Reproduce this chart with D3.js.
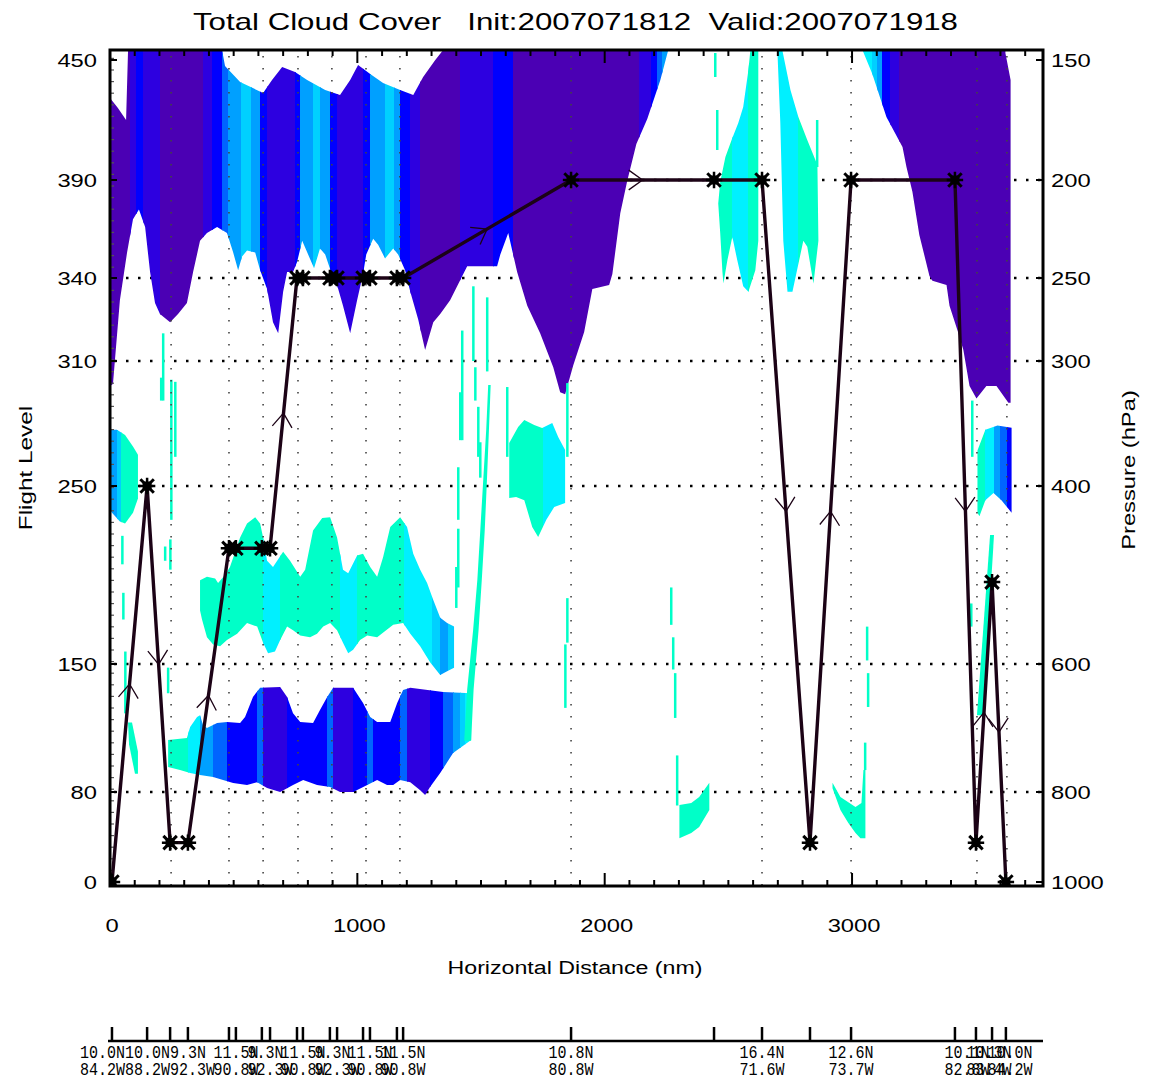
<!DOCTYPE html>
<html>
<head>
<meta charset="utf-8">
<script src="https://cdn.jsdelivr.net/npm/d3@7"></script>
<style>
body { margin: 0; background: #fff; }
text { font-family: "Liberation Sans", Arial, sans-serif; fill: #000; }
.mono { font-family: "Liberation Mono", "DejaVu Sans Mono", monospace; }
</style>
</head>
<body>
<div id="chart"></div>
<script>
// axis ticks
var distTicks = [0, 1000, 2000, 3000];
var flTicks = [0, 80, 150, 250, 310, 340, 390, 450];
var presTicks = [1000, 800, 600, 400, 300, 250, 200, 150];

// flight profile (nm, flight level)
var profDist = [8, 150, 243, 315, 481, 509, 614, 647, 756, 780, 889, 918, 1023, 1051, 1160, 1185, 1864, 2442, 2636, 2830, 2996, 3416, 3501, 3566, 3622];
var profFL   = [0, 250, 35, 35, 215, 215, 215, 215, 340, 340, 340, 340, 340, 340, 340, 340, 390, 390, 390, 35, 390, 390, 35, 196, 0];
// direction arrow on leg i -> i+1
var legArrow = [1, 1, 0, 1, 0, 0, 0, 1, 0, 0, 0, 0, 0, 0, 0, 1, 1, 0, 1, 1, 0, 1, 1, 1];

// waypoints
var gridDist = [247, 481, 619, 760, 897, 1035, 1172, 1864, 2636, 2996, 3505, 3626];
var labelDist = [-30, 152, 334, 509, 647, 780, 918, 1051, 1185, 1864, 2636, 2996, 3465, 3554, 3639];
var labelLat = ["10.0N", "10.0N", "9.3N", "11.5N", "9.3N", "11.5N", "9.3N", "11.5N", "11.5N", "10.8N", "16.4N", "12.6N", "10.1N", "10.3N", "10.0N"];
var labelLon = ["84.2W", "88.2W", "92.3W", "90.8W", "92.3W", "90.8W", "92.3W", "90.8W", "90.8W", "80.8W", "71.6W", "73.7W", "82.8W", "83.4W", "84.2W"];

// cloud cover colour levels, low -> high
var cloudColors = ["#00ffc8", "#00f0ff", "#00d0ff", "#00a0ff", "#0064ff", "#0000ff", "#2d00e0", "#4b00b4"];

// upper deck, west part: outline [nm, FL]
var deckA = [[0, 431], [32, 426], [65, 420], [73, 455], [453, 455], [465, 447], [526, 439], [619, 433.5], [655, 440], [696, 446.5], [748, 444], [797, 440], [870, 435], [930, 432.5], [971, 440], [1003, 447.5], [1052, 443], [1104, 438.5], [1173, 435], [1226, 432.5], [1266, 441.5], [1315, 450], [1347, 455], [2257, 455],
  [2225, 440], [2172, 420.5], [2128, 408], [2091, 389.5], [2063, 373], [2031, 342], [2018, 337.5], [1950, 336], [1917, 320.5], [1873, 308], [1840, 294], [1820, 295], [1792, 307], [1739, 320], [1687, 330], [1646, 343], [1610, 363], [1578, 352], [1565, 346], [1444, 346], [1375, 332], [1335, 327], [1307, 324], [1274, 314], [1246, 325], [1214, 335], [1193, 344], [1165, 352], [1145, 355], [1112, 350], [1084, 357], [1064, 360], [1036, 352], [1023, 342], [999, 332], [971, 320], [942, 330], [918, 337.5], [902, 340], [870, 352], [849, 355], [825, 345], [801, 352], [777, 359], [756, 348], [740, 343], [716, 343], [700, 335], [680, 320], [659, 324], [635, 336], [607, 344], [587, 353], [554, 354], [534, 351], [518, 344], [498, 353], [473, 363], [433, 366], [392, 363], [364, 359], [336, 343], [311, 331], [275, 327], [243, 324], [202, 327], [182, 331], [162, 343], [142, 366], [117, 375], [93, 370], [69, 353], [40, 332], [12, 299], [0, 298]];
var deckABands = [[0, 81, 7], [81, 105, 6], [105, 135, 5], [135, 202, 6], [202, 376, 7], [376, 413, 6], [413, 453, 5], [453, 477, 4], [477, 530, 3], [530, 570, 2], [570, 607, 3], [607, 635, 5], [635, 748, 6], [748, 769, 5], [769, 820, 3], [820, 850, 2], [850, 890, 3], [890, 918, 5], [918, 1023, 6], [1023, 1052, 5], [1052, 1110, 3], [1110, 1150, 2], [1150, 1173, 3], [1173, 1214, 5], [1214, 1254, 6], [1254, 1416, 7], [1416, 1549, 6], [1549, 1630, 5], [1630, 2140, 7], [2140, 2188, 6], [2188, 2213, 5], [2213, 2233, 4], [2233, 2270, 3]];

// upper deck, east part
var deckB = [[3042, 455], [3620, 455], [3620, 453.5], [3641, 440], [3641, 290], [3632, 290], [3584, 298], [3543, 298], [3503, 292], [3475, 298], [3450, 314], [3430, 320], [3394, 330], [3382, 337.5], [3325, 339], [3313, 341], [3272, 362], [3244, 384], [3220, 396.5], [3204, 406.5], [3139, 421.5], [3082, 443]];
var deckBBands = [[3040, 3082, 1], [3082, 3102, 2], [3102, 3123, 3], [3123, 3155, 5], [3155, 3191, 6], [3191, 3650, 7]];

// mid level and low level cloud
var blobA = [[0, 277], [28, 277], [61, 274.5], [93, 269], [113, 265], [113, 243], [93, 235], [61, 229], [40, 230], [8, 235], [0, 236.5]];
var blobABands = [[0, 28, 3], [28, 45, 2], [45, 115, 0]];

var blobB = [[364, 197], [392, 199], [425, 198], [437, 195.5], [465, 200], [485, 204.5], [526, 221], [554, 229], [587, 232.5], [607, 229], [619, 221], [635, 208], [659, 204.5], [700, 213], [728, 208], [769, 199], [789, 203], [821, 225], [858, 232], [890, 232.5], [918, 221], [942, 203], [963, 201], [999, 211], [1023, 212], [1052, 204.5], [1080, 199], [1104, 210], [1133, 227], [1173, 232.5], [1201, 227], [1226, 212], [1254, 203], [1282, 195.5], [1307, 186], [1335, 176], [1363, 173], [1391, 171],
  [1391, 148], [1363, 146], [1335, 144], [1294, 151], [1254, 160], [1214, 167], [1185, 173], [1145, 172], [1080, 165], [1040, 166], [1011, 163.5], [983, 158], [963, 156], [942, 162], [918, 169], [890, 173], [862, 171], [837, 167], [809, 165], [769, 166], [740, 169], [716, 171], [688, 163.5], [667, 157], [639, 156], [619, 162], [595, 171], [554, 173], [514, 167], [473, 163.5], [445, 160], [417, 161], [392, 165], [372, 175], [364, 180]];
var blobBBands = [[360, 619, 0], [619, 688, 1], [688, 930, 0], [930, 1000, 1], [1000, 1190, 0], [1190, 1300, 1], [1300, 1335, 2], [1335, 1365, 3], [1365, 1395, 2]];

var blobC = [[235, 108.4], [311, 109.5], [324, 115.5], [352, 121], [364, 122], [376, 116.6], [392, 115], [433, 117.7], [473, 118.3], [526, 117.7], [546, 121], [578, 132], [607, 137], [688, 137.4], [716, 132], [740, 123], [769, 118.3], [821, 117.7], [849, 124.8], [878, 132], [902, 137], [983, 137], [1023, 128.7], [1052, 121], [1080, 118.3], [1133, 118.3], [1161, 128.7], [1185, 135.8], [1214, 137], [1347, 134.7], [1460, 134], [1460, 108.4], [1387, 101.3], [1335, 90.4], [1294, 82.7], [1274, 77.3], [1254, 81], [1214, 85.4], [1173, 86.5], [1145, 83.8], [1120, 83.8], [1080, 86.5], [1040, 83.8], [983, 80], [930, 80], [890, 82.7], [837, 83.8], [781, 86.5], [740, 83.8], [688, 80], [635, 82.2], [595, 85.4], [554, 83.8], [498, 84.9], [457, 86.5], [417, 88.2], [364, 89.3], [324, 90.4], [283, 92], [235, 93.7]];
var blobCBands = [[230, 315, 0], [315, 364, 1], [364, 417, 3], [417, 473, 4], [473, 595, 5], [595, 619, 4], [619, 716, 6], [716, 878, 5], [878, 902, 4], [902, 983, 6], [983, 1040, 5], [1040, 1064, 4], [1064, 1173, 5], [1173, 1201, 4], [1201, 1294, 6], [1294, 1347, 5], [1347, 1387, 4], [1387, 1416, 3], [1416, 1436, 2], [1436, 1465, 1]];

var rimC = [[1432, 108], [1444, 136], [1468, 169], [1485, 197], [1497, 225], [1509, 253], [1521, 277], [1529, 298.5], [1539, 298.5], [1532, 277], [1524, 253], [1515, 225], [1503, 197], [1490, 169], [1470, 136], [1460, 108]];

var blobE = [[1614, 270.6], [1650, 278.3], [1675, 281.7], [1715, 279.3], [1747, 277.8], [1788, 280.2], [1812, 273.5], [1840, 267.3], [1840, 240.4], [1796, 238.2], [1764, 231], [1731, 221.3], [1707, 227], [1675, 242], [1642, 243.8], [1614, 243.3]];
var blobEBands = [[1610, 1750, 0], [1750, 1845, 1]];

var blobF = [[2302, 68.4], [2350, 70.2], [2382, 75.6], [2423, 85], [2423, 64], [2382, 49], [2350, 43.6], [2302, 39]];
var blobG = [[2921, 85], [2953, 75.6], [2985, 71], [3014, 66.7], [3038, 70.2], [3046, 92], [3054, 92], [3054, 39], [3034, 39], [3014, 43.6], [2985, 52.4], [2953, 64], [2921, 82]];
var blobH = [[3507, 267], [3539, 277], [3588, 279], [3645, 278], [3645, 235], [3604, 242], [3572, 246], [3539, 242], [3515, 233], [3507, 235]];
var blobHBands = [[3500, 3539, 0], [3539, 3572, 1], [3572, 3600, 3], [3600, 3625, 4], [3625, 3650, 5]];

var blobI = [[2589, 455], [2621, 455], [2621, 359], [2609, 344], [2581, 335], [2560, 337], [2536, 349], [2516, 361], [2496, 349], [2480, 338], [2476, 343], [2467, 363], [2459, 378], [2467, 389], [2488, 401.5], [2516, 411], [2540, 418.5], [2560, 426.5], [2581, 445]];
var blobIBands = [[2455, 2516, 0], [2516, 2581, 1], [2581, 2625, 0]];
var blobJ = [[2698, 455], [2718, 455], [2751, 435], [2783, 421.5], [2819, 410], [2860, 397.5], [2864, 359], [2844, 338], [2819, 356], [2803, 359], [2759, 335], [2739, 335], [2722, 359], [2710, 418.5]];
var blobJBands = [[2695, 2780, 1], [2780, 2868, 0]];

var wispA = [[73, 118], [89, 118], [113, 102], [113, 90], [101, 90], [77, 106]];
var wispB = [[3558, 222.5], [3574, 222.5], [3529, 122], [3505, 122]];

// thin streaks [nm, top FL, bottom FL]
var streaks = [[214, 320, 291], [206, 302, 291], [263, 300, 264], [247, 301, 231], [222, 216, 208], [243, 220, 203], [234, 148, 134],
  [49, 222, 206], [53, 190, 175], [61, 157, 123],
  [1423, 321, 272], [1468, 337, 310], [1476, 307, 291], [1488, 288, 264], [1524, 333, 305], [1605, 297.5, 264], [1399, 204.5, 181.5], [1407, 226, 193], [1415, 295, 272], [1407, 259, 231], [1496, 271, 254],
  [1848, 299.4, 264], [1848, 187, 162], [1840, 161, 126],
  [2268, 193, 172], [2276, 165, 147], [2284, 145, 120.5], [2292, 100, 68],
  [2446, 453.5, 441.5], [2454, 425, 405], [2858, 420, 396.5],
  [3060, 171, 152], [3064, 145, 126.5], [3052, 107, 92],
  [3485, 291, 264], [3481, 184, 171]];

// ---------------------------------------------------------------
var width = 1152, height = 1090;
var pL = 110, pR = 1043, pT = 50, pB = 886;

var svg = d3.select('#chart').append('svg')
    .attr('width', width)
    .attr('height', height);
var defs = svg.append('defs');

var x = d3.scaleLinear().domain([0, 3772]).range([pL, pR]);
var y = d3.scaleLinear().domain(flTicks).range([882, 792, 664, 486, 361, 278, 180, 60]);

defs.append('clipPath').attr('id', 'plotclip')
  .append('rect').attr('x', pL).attr('y', pT).attr('width', pR - pL).attr('height', pB - pT);

var plot = svg.append('g').attr('clip-path', 'url(#plotclip)');

// horizontal dotted grid (under the cloud)
plot.selectAll('.hgrid').data(flTicks.slice(1, -1)).join('line')
    .attr('x1', pL + 4).attr('x2', pR)
    .attr('y1', function(d){ return y(d); }).attr('y2', function(d){ return y(d); })
    .attr('stroke', '#000').attr('stroke-width', 2.5)
    .attr('stroke-dasharray', '2.5,9.5');

var line = d3.line().x(function(d){ return x(d[0]); }).y(function(d){ return y(d[1]); });

var clouds = plot.append('g');
var n = 0;
function banded(outline, bands) {
    var id = 'cl' + (n++);
    defs.append('clipPath').attr('id', id).append('path').attr('d', line(outline) + 'Z');
    clouds.append('g').attr('clip-path', 'url(#' + id + ')')
      .selectAll('rect').data(bands).join('rect')
        .attr('x', function(b){ return x(b[0]); })
        .attr('width', function(b){ return x(b[1]) - x(b[0]) + 0.6; })
        .attr('y', pT).attr('height', pB - pT)
        .attr('shape-rendering', 'crispEdges')
        .attr('fill', function(b){ return cloudColors[b[2]]; });
}
function solid(outline, level) {
    clouds.append('path').attr('d', line(outline) + 'Z').attr('fill', cloudColors[level]);
}

banded(deckA, deckABands);
banded(deckB, deckBBands);
banded(blobA, blobABands);
banded(blobB, blobBBands);
banded(blobC, blobCBands);
solid(rimC, 0);
banded(blobE, blobEBands);
solid(blobF, 0);
solid(blobG, 0);
banded(blobH, blobHBands);
banded(blobI, blobIBands);
banded(blobJ, blobJBands);
solid(wispA, 0);
solid(wispB, 0);

clouds.selectAll('.streak').data(streaks).join('rect')
    .attr('x', function(d){ return x(d[0]) - 1; })
    .attr('width', 2.5)
    .attr('y', function(d){ return y(d[1]); })
    .attr('height', function(d){ return y(d[2]) - y(d[1]); })
    .attr('fill', cloudColors[0]);

// vertical dotted grid at waypoints (over the cloud)
plot.selectAll('.vgrid').data(gridDist).join('line')
    .attr('x1', function(d){ return x(d); }).attr('x2', function(d){ return x(d); })
    .attr('y1', pT + 6).attr('y2', pB)
    .attr('stroke', '#444').attr('stroke-width', 1.6)
    .attr('stroke-dasharray', '1.6,10.4');

// left minor ticks
var minor = d3.range(y(0) - 11.6, y(455), -11.6).map(function(p){ return y.invert(p); });
plot.selectAll('.ltick').data(minor).join('line')
    .attr('x1', pL).attr('x2', pL + 4)
    .attr('y1', function(d){ return y(d); }).attr('y2', function(d){ return y(d); })
    .attr('stroke', '#555').attr('stroke-width', 1.2);

// flight track
var prof = profDist.map(function(d, i){ return [d, profFL[i]]; });
plot.append('path').attr('d', line(prof))
    .attr('fill', 'none').attr('stroke', '#1c0316').attr('stroke-width', 3.4)
    .attr('stroke-linejoin', 'round');

var legs = d3.range(prof.length - 1).filter(function(i){ return legArrow[i]; });
plot.selectAll('.arrow').data(legs).join('path')
    .attr('d', function(i){
        var x0 = x(prof[i][0]), y0 = y(prof[i][1]), x1 = x(prof[i + 1][0]), y1 = y(prof[i + 1][1]);
        var mx = (x0 + x1) / 2, my = (y0 + y1) / 2, a = Math.atan2(y1 - y0, x1 - x0);
        var L = 17, s = 0.62;
        return 'M' + (mx - L * Math.cos(a - s)) + ',' + (my - L * Math.sin(a - s)) +
               'L' + mx + ',' + my +
               'L' + (mx - L * Math.cos(a + s)) + ',' + (my - L * Math.sin(a + s));
    })
    .attr('fill', 'none').attr('stroke', '#1c0316').attr('stroke-width', 1.3);

var star = plot.selectAll('.mark').data(prof).join('g')
    .attr('transform', function(d){ return 'translate(' + x(d[0]) + ',' + y(d[1]) + ')'; });
star.append('rect').attr('x', -4.5).attr('y', -4.5).attr('width', 9).attr('height', 9).attr('fill', '#000');
star.append('path').attr('d', d3.symbol(d3.symbolTimes, 120))
    .attr('stroke', '#000').attr('stroke-width', 3).attr('fill', 'none');
star.append('path').attr('d', d3.symbol(d3.symbolPlus, 90))
    .attr('stroke', '#000').attr('stroke-width', 2.5).attr('fill', 'none');

// frame and ticks
var axes = svg.append('g').attr('stroke', '#000');
axes.append('rect').attr('x', pL).attr('y', pT).attr('width', pR - pL).attr('height', pB - pT)
    .attr('fill', 'none').attr('stroke-width', 3);

var xMinor = d3.range(0, 3772, 100);
axes.selectAll('.tb').data(xMinor).join('line')
    .attr('x1', function(d){ return x(d); }).attr('x2', function(d){ return x(d); })
    .attr('y1', pB).attr('y2', function(d){ return pB - (d % 1000 === 0 ? 13 : 6); })
    .attr('stroke-width', 2);
axes.selectAll('.tt').data(xMinor).join('line')
    .attr('x1', function(d){ return x(d); }).attr('x2', function(d){ return x(d); })
    .attr('y1', pT).attr('y2', function(d){ return pT + (d % 1000 === 0 ? 13 : 6); })
    .attr('stroke-width', 2);
axes.selectAll('.tl').data(flTicks).join('line')
    .attr('x1', pL).attr('x2', pL + 7)
    .attr('y1', function(d){ return y(d); }).attr('y2', function(d){ return y(d); })
    .attr('stroke-width', 2);
axes.selectAll('.tr').data(flTicks).join('line')
    .attr('x1', pR).attr('x2', pR - 7)
    .attr('y1', function(d){ return y(d); }).attr('y2', function(d){ return y(d); })
    .attr('stroke-width', 2);

// stretched text helper
function label(tx, ty, str, size, anchor, sx, rot) {
    return svg.append('text')
        .attr('transform', 'translate(' + tx + ',' + ty + ')' + (rot ? ' rotate(' + rot + ')' : '') + ' scale(' + sx + ',1)')
        .attr('text-anchor', anchor)
        .attr('font-size', size)
        .attr('dy', '0.35em')
        .style('white-space', 'pre')
        .text(str);
}

svg.append('text')
    .attr('x', 193).attr('y', 22).attr('dy', '0.35em')
    .attr('font-size', 24)
    .attr('textLength', 765).attr('lengthAdjust', 'spacingAndGlyphs')
    .style('white-space', 'pre')
    .text('Total Cloud Cover   Init:2007071812  Valid:2007071918');

flTicks.forEach(function(d){ label(97, y(d), String(d), 19, 'end', 1.25); });
presTicks.forEach(function(p, i){ label(1051, y(flTicks[i]), String(p), 19, 'start', 1.25); });
distTicks.forEach(function(d){ label(x(d) + 2, 925, String(d), 19, 'middle', 1.25); });

label(575, 967, 'Horizontal Distance (nm)', 19, 'middle', 1.22);
label(25, 468, 'Flight Level', 19, 'middle', 1.28, -90);
label(1128, 470, 'Pressure (hPa)', 19, 'middle', 1.25, -90);

// waypoint axis
var wp = svg.append('g');
wp.append('line').attr('x1', 108).attr('x2', pR).attr('y1', 1041).attr('y2', 1041)
    .attr('stroke', '#000').attr('stroke-width', 2.5);
wp.selectAll('.wt').data(profDist).join('line')
    .attr('x1', function(d){ return x(d); }).attr('x2', function(d){ return x(d); })
    .attr('y1', 1027).attr('y2', 1041)
    .attr('stroke', '#000').attr('stroke-width', 2.5);

labelDist.forEach(function(d, i){
    [labelLat[i], labelLon[i]].forEach(function(s, k){
        wp.append('text').attr('class', 'mono')
          .attr('transform', 'translate(' + (x(d) - 22.5) + ',' + (1058 + k * 17) + ') scale(1,1.28)')
          .attr('font-size', 15)
          .text(s);
    });
});
</script>
</body>
</html>
